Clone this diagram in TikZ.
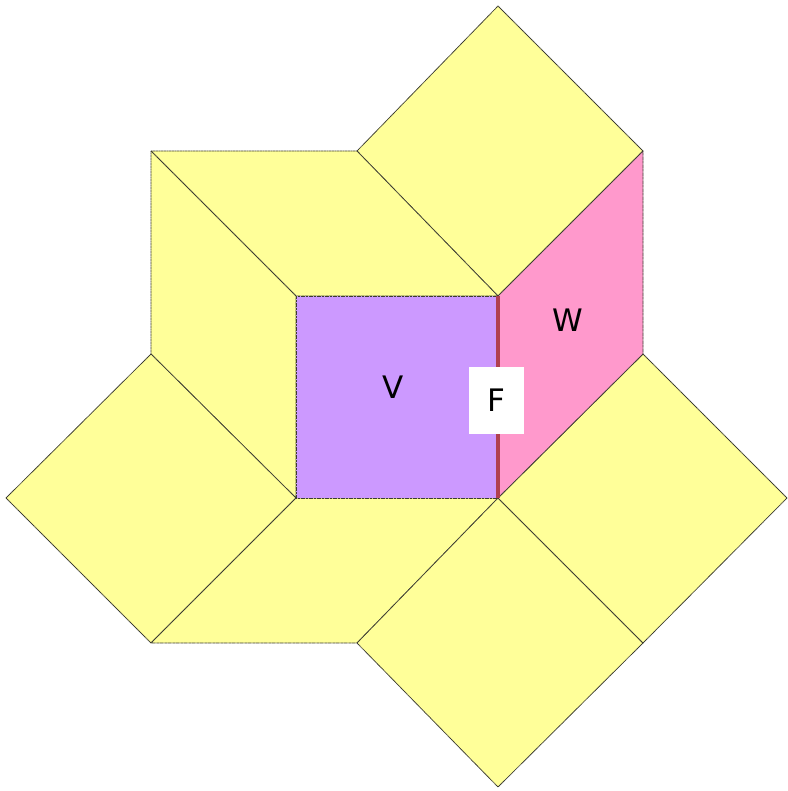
\documentclass[tikz,border=0pt]{standalone}
\usepackage{fontspec}
\setmainfont{DejaVu Sans}
\definecolor{yel}{RGB}{255,255,153}
\definecolor{vio}{RGB}{204,153,255}
\definecolor{pnk}{RGB}{255,153,204}
\definecolor{edge}{RGB}{60,60,50}
\definecolor{fedge}{RGB}{176,64,80}
\begin{document}
\begin{tikzpicture}[x=1pt,y=-1pt,
  tile/.style={draw=edge,line width=0.8pt,dash pattern=on 1.2pt off 0.4pt,line join=round},
  lbl/.style={font=\fontsize{31}{32}\selectfont,inner sep=0pt},
  fbox/.style={fill=white,minimum width=55pt,minimum height=67pt,inner sep=0pt,font=\fontsize{31}{32}\selectfont}]
\useasboundingbox (0,0) rectangle (787,791);
% coordinates
\coordinate (a1) at (151,151);
\coordinate (a2) at (357,151);
\coordinate (a3) at (498,6);
\coordinate (a4) at (643,151);
\coordinate (c1) at (296,296);
\coordinate (c2) at (498,296);
\coordinate (c3) at (498,498);
\coordinate (c4) at (296,498);
\coordinate (w3) at (643,354);
\coordinate (l1) at (151,354);
\coordinate (l2) at (6,498);
\coordinate (l3) at (151,643);
\coordinate (b1) at (357,643);
\coordinate (b2) at (498,787);
\coordinate (b3) at (643,643);
\coordinate (r1) at (787,498);
% yellow tiles
\filldraw[tile,fill=yel] (a2) -- (a3) -- (a4) -- (c2) -- cycle;
\filldraw[tile,fill=yel] (a1) -- (a2) -- (c2) -- (c1) -- cycle;
\filldraw[tile,fill=yel] (a1) -- (c1) -- (c4) -- (l1) -- cycle;
\filldraw[tile,fill=yel] (l1) -- (c4) -- (l3) -- (l2) -- cycle;
\filldraw[tile,fill=yel] (c4) -- (c3) -- (b1) -- (l3) -- cycle;
\filldraw[tile,fill=yel] (c3) -- (b3) -- (b2) -- (b1) -- cycle;
\filldraw[tile,fill=yel] (c3) -- (w3) -- (r1) -- (b3) -- cycle;
% V and W
\filldraw[tile,fill=vio] (c1) -- (c2) -- (c3) -- (c4) -- cycle;
\filldraw[tile,fill=pnk] (c2) -- (a4) -- (w3) -- (c3) -- cycle;
\draw[fedge,line width=3.5pt] (c2) -- (c3);
% labels
\node[lbl] (V) at (393,387) {V};
\node[lbl] (W) at (568,320) {W};
\node[fbox] (F) at (496,400) {F};
\end{tikzpicture}
\end{document}
